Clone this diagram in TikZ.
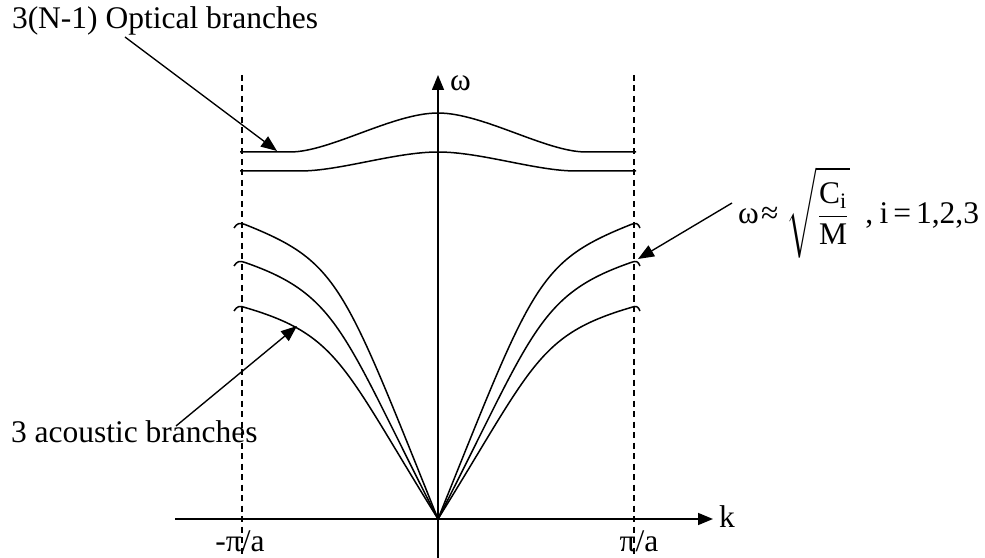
\documentclass[tikz,border=0pt]{standalone}
\usepackage{amsmath}
\usepackage{fontspec}
\setmainfont{Liberation Serif}
\usetikzlibrary{arrows.meta}
\newcommand\fs{\fontsize{12.6}{15}\selectfont}
\tikzset{
  curve/.style={line width=0.6pt},
  axisline/.style={line width=0.6pt},
  bound/.style={line width=0.5pt, dash pattern=on 2.4pt off 1.8pt},
  tip/.style={-{Triangle[length=6pt,width=4.8pt]}},
  pointer/.style={line width=0.55pt, -{Triangle[length=6.4pt,width=5pt]}},
  lbl/.style={font=\fs, inner sep=0pt, outer sep=0pt},
}
\begin{document}
\begin{tikzpicture}[x=0.4pt,y=-0.4pt]
\useasboundingbox (0,0) rectangle (985,558);
% zone boundaries
\draw[bound] (242,75) -- (242,556);
\draw[bound] (634,75) -- (634,556);
% axes
\coordinate (xs) at (175,519);
\coordinate (xe) at (713,519);
\coordinate (ys) at (438,558);
\coordinate (ye) at (438,75);
\draw[axisline,tip] (xs) -- (xe);
\draw[axisline,tip] (ys) -- (ye);
\node[lbl, anchor=base west] (klab) at (719,527) {k};
\node[lbl, anchor=base west] (wlab) at (450,91) {ω};
\node[lbl, anchor=base] (mpa) at (240,551) {-π/a};
\node[lbl, anchor=base] (ppa) at (639,551) {π/a};
% optical branches
\draw[curve] (240,152) -- (290,152) .. controls (330,152) and (393,113) .. (438,113)
  .. controls (483,113) and (546,152) .. (586,152) -- (636,152);
\draw[curve] (240,171) -- (300,171) .. controls (340,171) and (395,152) .. (438,152)
  .. controls (481,152) and (536,171) .. (576,171) -- (636,171);
% acoustic branches (left)
\coordinate (o) at (438,519);
\draw[curve] (o) .. controls (343,283) and (339,262) .. (245,224.5)
  .. controls (240,222.5) and (237,223) .. (234,228);
\draw[curve] (o) .. controls (343,334) and (339,295) .. (245,262.5)
  .. controls (240,260.5) and (237,261) .. (234,266);
\draw[curve] (o) .. controls (343,366) and (339,335) .. (245,307.5)
  .. controls (240,305.5) and (237,306) .. (234,311);
% acoustic branches (right)
\draw[curve] (o) .. controls (533,283) and (537,262) .. (631,224.5)
  .. controls (636,222.5) and (638,223) .. (640,228);
\draw[curve] (o) .. controls (533,334) and (537,295) .. (631,262.5)
  .. controls (636,260.5) and (638,261) .. (640,266);
\draw[curve] (o) .. controls (533,366) and (537,335) .. (631,307.5)
  .. controls (636,305.5) and (638,306) .. (640,311);
% labels
\node[lbl, anchor=base west] (optlab) at (12,29) {3(N-1) Optical branches};
\node[lbl, anchor=base west] (acclab) at (11,442) {3 acoustic branches};
\node[lbl, anchor=base west] (form) at (738,224)
  {ω\hspace{1pt}≈\hspace{3pt}$\sqrt{\dfrac{\rule{0pt}{10pt}\text{C}_{\text{i}}}{\text{M}\rule[-2.5pt]{0pt}{0pt}}}$\hspace{6pt},\hspace{2.5pt}i\hspace{2pt}=\hspace{2pt}1,2,3};
% pointers
\coordinate (optS) at (125,37);
\coordinate (optT) at (277,151);
\coordinate (accS) at (176,426);
\coordinate (accT) at (297,326);
\coordinate (frmS) at (732,203);
\coordinate (frmT) at (638,259);
\draw[pointer] (optS) -- (optT);
\draw[pointer] (accS) -- (accT);
\draw[pointer] (frmS) -- (frmT);
\end{tikzpicture}
\end{document}
